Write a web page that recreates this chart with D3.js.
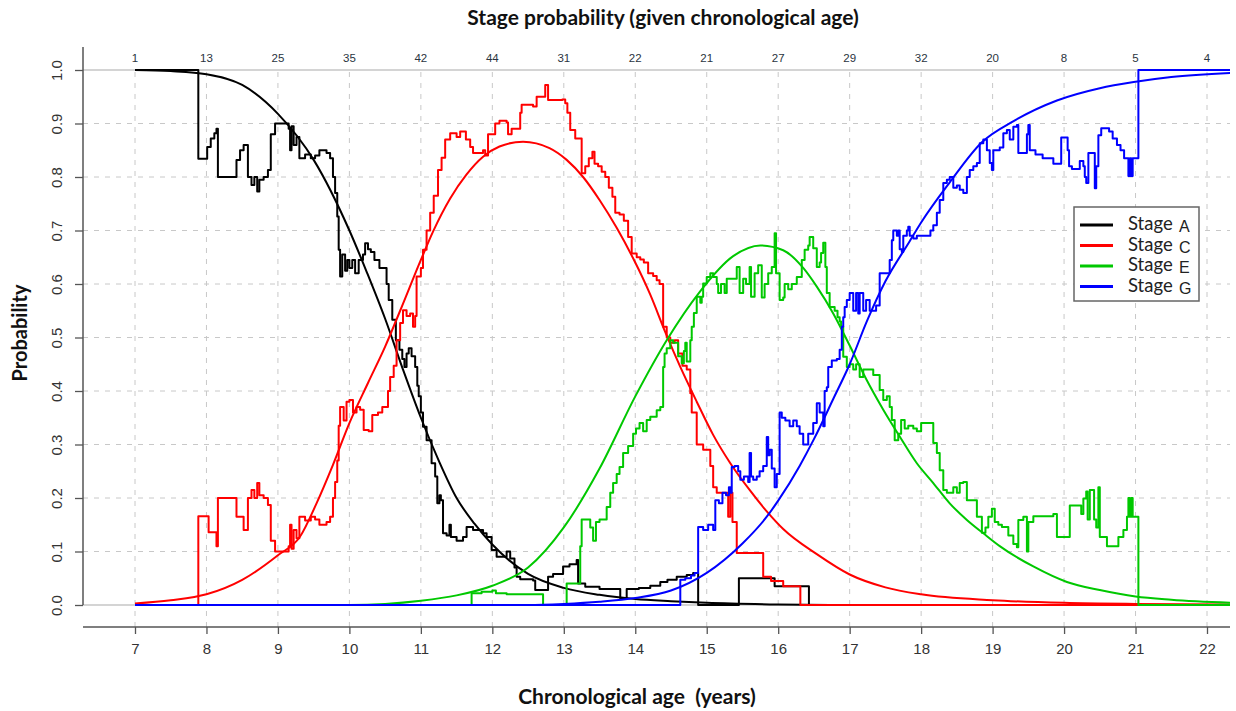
<!DOCTYPE html>
<html>
<head>
<meta charset="utf-8">
<script src="https://cdn.jsdelivr.net/npm/d3@7"></script>
<style>
  html, body { margin: 0; padding: 0; background: #fff; }
  svg { display: block; }
</style>
</head>
<body>
<svg id="chart" width="1236" height="711"></svg>
<script>
// ---------- DATA ----------
const xTickValues = [7, 8, 9, 10, 11, 12, 13, 14, 15, 16, 17, 18, 19, 20, 21, 22];
const sampleCounts = [1, 13, 25, 35, 42, 44, 31, 22, 21, 27, 29, 32, 20, 8, 5, 4];
const yTickValues = [0, 0.1, 0.2, 0.3, 0.4, 0.5, 0.6, 0.7, 0.8, 0.9, 1.0];
const stageNames = ["A", "C", "E", "G"];
const stageColors = ["#000000", "#ff0000", "#00c800", "#0000ff"];

// empirical (moving-window) stage proportions: [age, probability], step after
const stepA = [[7,1.0],[7.886,0.834],[8.01,0.856],[8.06,0.872],[8.11,0.882],[8.14,0.89],[8.16,0.80],[8.42,0.832],[8.47,0.85],[8.52,0.86],[8.58,0.80],[8.63,0.785],[8.67,0.80],[8.71,0.773],[8.74,0.795],[8.8,0.80],[8.86,0.813],[8.9,0.88],[8.96,0.90],[9.15,0.89],[9.17,0.85],[9.19,0.895],[9.22,0.86],[9.26,0.875],[9.3,0.835],[9.38,0.842],[9.46,0.835],[9.52,0.84],[9.58,0.85],[9.68,0.845],[9.73,0.835],[9.77,0.80],[9.8,0.77],[9.83,0.726],[9.85,0.664],[9.87,0.614],[9.9,0.655],[9.94,0.625],[9.97,0.645],[10.0,0.63],[10.04,0.645],[10.08,0.62],[10.13,0.645],[10.19,0.655],[10.22,0.676],[10.26,0.665],[10.3,0.66],[10.35,0.645],[10.42,0.63],[10.52,0.60],[10.55,0.57],[10.6,0.533],[10.65,0.495],[10.7,0.477],[10.74,0.46],[10.77,0.445],[10.8,0.47],[10.83,0.48],[10.87,0.465],[10.92,0.445],[10.95,0.41],[10.97,0.39],[11.0,0.36],[11.03,0.333],[11.08,0.308],[11.15,0.265],[11.2,0.24],[11.23,0.19],[11.26,0.205],[11.28,0.196],[11.31,0.134],[11.36,0.13],[11.4,0.15],[11.42,0.127],[11.5,0.12],[11.59,0.127],[11.64,0.146],[11.73,0.14],[11.87,0.134],[11.92,0.127],[11.99,0.103],[12.06,0.09],[12.2,0.10],[12.25,0.087],[12.31,0.07],[12.34,0.053],[12.39,0.048],[12.57,0.046],[12.6,0.028],[12.78,0.053],[12.85,0.058],[12.99,0.072],[13.08,0.076],[13.18,0.084],[13.2,0.04],[13.3,0.034],[13.5,0.03],[13.79,0.012],[13.88,0.03],[14.05,0.032],[14.21,0.036],[14.35,0.043],[14.45,0.047],[14.58,0.053],[14.72,0.056],[14.81,0.06],[14.88,0],[15.45,0.05],[15.95,0.035],[16.43,0],[21.04,0]];

const stepC = [[7,0],[7.886,0.166],[8.03,0.136],[8.14,0.11],[8.16,0.20],[8.42,0.165],[8.52,0.14],[8.58,0.20],[8.63,0.215],[8.67,0.20],[8.71,0.228],[8.74,0.205],[8.8,0.20],[8.86,0.187],[8.9,0.12],[8.96,0.10],[9.15,0.11],[9.17,0.15],[9.19,0.105],[9.22,0.14],[9.26,0.125],[9.3,0.165],[9.38,0.158],[9.46,0.165],[9.52,0.16],[9.58,0.15],[9.68,0.155],[9.73,0.165],[9.77,0.20],[9.8,0.23],[9.83,0.27],[9.85,0.335],[9.87,0.37],[9.92,0.345],[9.96,0.38],[10.0,0.383],[10.05,0.36],[10.1,0.37],[10.15,0.365],[10.2,0.327],[10.27,0.325],[10.32,0.355],[10.4,0.36],[10.46,0.37],[10.54,0.40],[10.57,0.426],[10.62,0.447],[10.66,0.495],[10.71,0.527],[10.75,0.551],[10.8,0.54],[10.85,0.545],[10.89,0.52],[10.92,0.54],[10.94,0.614],[11.0,0.63],[11.03,0.664],[11.08,0.70],[11.13,0.733],[11.18,0.765],[11.24,0.813],[11.29,0.836],[11.34,0.87],[11.41,0.882],[11.5,0.875],[11.55,0.885],[11.63,0.87],[11.69,0.856],[11.73,0.845],[11.87,0.85],[11.9,0.84],[11.94,0.88],[12.04,0.90],[12.1,0.905],[12.2,0.902],[12.22,0.88],[12.27,0.89],[12.39,0.92],[12.41,0.935],[12.57,0.932],[12.62,0.95],[12.74,0.972],[12.78,0.944],[12.98,0.945],[13.02,0.938],[13.05,0.92],[13.09,0.888],[13.16,0.872],[13.25,0.807],[13.3,0.82],[13.35,0.835],[13.4,0.847],[13.43,0.825],[13.48,0.82],[13.53,0.81],[13.58,0.80],[13.63,0.78],[13.68,0.763],[13.72,0.733],[13.78,0.73],[13.84,0.718],[13.9,0.688],[13.95,0.657],[14.02,0.65],[14.07,0.646],[14.12,0.64],[14.18,0.62],[14.25,0.615],[14.3,0.607],[14.34,0.60],[14.39,0.52],[14.44,0.50],[14.49,0.49],[14.55,0.495],[14.6,0.47],[14.66,0.447],[14.72,0.44],[14.77,0.396],[14.79,0.36],[14.86,0.30],[14.95,0.29],[15.05,0.26],[15.09,0.22],[15.14,0.21],[15.25,0.21],[15.3,0.165],[15.33,0.21],[15.36,0.155],[15.42,0.097],[15.79,0.053],[15.9,0.045],[16.07,0.035],[16.31,0],[21.04,0]];

const stepE = [[7,0],[11.71,0.022],[11.85,0.025],[12.0,0.027],[12.05,0.022],[12.2,0.02],[12.71,0],[13.04,0.04],[13.23,0.11],[13.25,0.16],[13.37,0.145],[13.41,0.12],[13.45,0.155],[13.5,0.16],[13.6,0.183],[13.65,0.21],[13.69,0.228],[13.74,0.245],[13.78,0.258],[13.83,0.284],[13.9,0.297],[13.97,0.32],[14.01,0.33],[14.06,0.34],[14.11,0.325],[14.16,0.346],[14.21,0.352],[14.3,0.364],[14.35,0.37],[14.39,0.445],[14.41,0.47],[14.44,0.48],[14.49,0.495],[14.53,0.49],[14.6,0.465],[14.65,0.452],[14.68,0.475],[14.7,0.49],[14.72,0.455],[14.77,0.495],[14.79,0.52],[14.82,0.546],[14.86,0.576],[14.91,0.565],[14.93,0.576],[14.95,0.601],[15.0,0.613],[15.05,0.62],[15.09,0.613],[15.14,0.60],[15.16,0.583],[15.2,0.60],[15.25,0.583],[15.28,0.61],[15.42,0.632],[15.46,0.583],[15.51,0.61],[15.55,0.60],[15.6,0.632],[15.62,0.576],[15.67,0.62],[15.72,0.635],[15.77,0.575],[15.81,0.60],[15.86,0.62],[15.91,0.632],[15.95,0.695],[15.97,0.62],[16.02,0.57],[16.07,0.575],[16.09,0.60],[16.14,0.59],[16.19,0.60],[16.26,0.613],[16.33,0.645],[16.37,0.664],[16.42,0.672],[16.44,0.688],[16.49,0.667],[16.54,0.632],[16.58,0.64],[16.6,0.658],[16.63,0.677],[16.66,0.632],[16.68,0.583],[16.72,0.557],[16.79,0.55],[16.83,0.538],[16.86,0.53],[16.88,0.52],[16.91,0.464],[16.96,0.445],[17.0,0.45],[17.05,0.44],[17.09,0.45],[17.14,0.426],[17.19,0.44],[17.33,0.43],[17.42,0.402],[17.47,0.383],[17.52,0.39],[17.56,0.37],[17.59,0.346],[17.63,0.308],[17.68,0.32],[17.72,0.346],[17.77,0.33],[17.82,0.335],[17.89,0.33],[17.94,0.325],[18.0,0.34],[18.12,0.34],[18.17,0.303],[18.22,0.284],[18.26,0.252],[18.31,0.215],[18.36,0.21],[18.45,0.22],[18.5,0.21],[18.54,0.228],[18.59,0.23],[18.64,0.196],[18.78,0.165],[18.85,0.135],[18.9,0.145],[18.94,0.165],[18.99,0.18],[19.03,0.155],[19.08,0.15],[19.13,0.146],[19.22,0.13],[19.29,0.114],[19.34,0.108],[19.36,0.159],[19.43,0.165],[19.48,0.10],[19.5,0.155],[19.57,0.166],[19.85,0.17],[19.9,0.127],[20.08,0.186],[20.24,0.17],[20.27,0.199],[20.31,0.212],[20.33,0.16],[20.36,0.215],[20.42,0.16],[20.45,0.145],[20.48,0.22],[20.5,0.127],[20.6,0.11],[20.76,0.127],[20.83,0.14],[20.88,0.165],[20.9,0.20],[20.92,0.165],[20.94,0.20],[20.96,0.165],[21.04,0],[22.4,0]];

const stepG = [[7,0],[14.63,0.047],[14.7,0.05],[14.78,0.055],[14.83,0.06],[14.88,0.146],[14.95,0.14],[15.02,0.15],[15.09,0.14],[15.12,0.196],[15.17,0.19],[15.22,0.21],[15.27,0.205],[15.31,0.22],[15.33,0.21],[15.35,0.258],[15.39,0.26],[15.44,0.25],[15.47,0.234],[15.52,0.24],[15.58,0.23],[15.6,0.284],[15.62,0.24],[15.65,0.234],[15.7,0.24],[15.74,0.25],[15.79,0.26],[15.84,0.314],[15.86,0.28],[15.88,0.29],[15.91,0.255],[15.95,0.22],[15.98,0.245],[16.02,0.36],[16.05,0.35],[16.1,0.345],[16.16,0.334],[16.21,0.345],[16.26,0.334],[16.3,0.32],[16.35,0.30],[16.42,0.32],[16.49,0.34],[16.54,0.377],[16.58,0.36],[16.63,0.334],[16.65,0.40],[16.68,0.407],[16.7,0.445],[16.75,0.457],[16.82,0.46],[16.86,0.477],[16.89,0.52],[16.91,0.538],[16.93,0.557],[16.96,0.57],[17.0,0.583],[17.05,0.55],[17.09,0.583],[17.12,0.545],[17.14,0.583],[17.19,0.55],[17.23,0.57],[17.28,0.55],[17.37,0.56],[17.42,0.62],[17.52,0.62],[17.56,0.645],[17.59,0.682],[17.61,0.70],[17.66,0.69],[17.68,0.70],[17.7,0.665],[17.73,0.66],[17.75,0.69],[17.8,0.70],[17.82,0.707],[17.84,0.69],[17.89,0.685],[17.94,0.69],[18.13,0.70],[18.17,0.71],[18.22,0.733],[18.26,0.757],[18.31,0.789],[18.36,0.795],[18.4,0.80],[18.45,0.78],[18.5,0.784],[18.54,0.776],[18.59,0.77],[18.64,0.80],[18.68,0.813],[18.73,0.82],[18.78,0.826],[18.82,0.863],[18.87,0.87],[18.92,0.85],[18.96,0.826],[18.99,0.813],[19.01,0.85],[19.1,0.855],[19.15,0.882],[19.2,0.888],[19.24,0.87],[19.29,0.894],[19.34,0.897],[19.36,0.845],[19.48,0.88],[19.5,0.897],[19.52,0.85],[19.6,0.842],[19.7,0.835],[19.85,0.825],[19.96,0.874],[20.05,0.85],[20.07,0.82],[20.11,0.815],[20.22,0.83],[20.27,0.82],[20.29,0.80],[20.31,0.789],[20.34,0.845],[20.43,0.779],[20.45,0.82],[20.48,0.878],[20.52,0.891],[20.63,0.885],[20.68,0.872],[20.74,0.86],[20.79,0.85],[20.84,0.835],[20.9,0.802],[20.92,0.835],[20.94,0.802],[20.96,0.835],[21.04,1.0],[22.4,1.0]];

// fitted (model) stage probabilities: [age, probability]
const fitA = [[7,1.0],[7.5,0.998],[8,0.992],[8.5,0.972],[9,0.918],[9.5,0.832],[10,0.70],[10.25,0.62],[10.5,0.535],[10.75,0.44],[11,0.35],[11.25,0.27],[11.5,0.20],[11.75,0.152],[12,0.113],[12.5,0.058],[13,0.032],[13.5,0.019],[14,0.011],[14.5,0.007],[15,0.004],[16,0.001],[17,0],[22.4,0]];
const fitC = [[7,0.003],[7.5,0.009],[8,0.02],[8.5,0.047],[9,0.093],[9.31,0.128],[9.54,0.19],[9.77,0.262],[10,0.34],[10.26,0.415],[10.5,0.483],[10.71,0.55],[11,0.645],[11.17,0.698],[11.41,0.76],[11.64,0.805],[11.87,0.838],[12.1,0.857],[12.43,0.866],[12.8,0.854],[13.04,0.832],[13.27,0.80],[13.5,0.757],[13.74,0.705],[13.97,0.648],[14.21,0.58],[14.42,0.51],[14.63,0.445],[14.86,0.38],[15.09,0.318],[15.33,0.265],[15.6,0.215],[15.84,0.175],[16.07,0.142],[16.54,0.095],[17,0.057],[17.5,0.033],[18,0.02],[19,0.009],[20,0.004],[21,0.002],[22.4,0.001]];
const fitE = [[7,0],[10,0],[10.5,0.002],[11,0.008],[11.5,0.018],[12,0.036],[12.5,0.07],[13,0.145],[13.5,0.255],[14,0.39],[14.44,0.495],[14.9,0.585],[15.37,0.652],[15.75,0.672],[16.07,0.663],[16.35,0.63],[16.54,0.595],[16.77,0.545],[17,0.485],[17.24,0.42],[17.47,0.365],[17.7,0.315],[17.94,0.265],[18.17,0.228],[18.4,0.19],[18.64,0.159],[18.87,0.134],[19.1,0.11],[19.57,0.072],[20.04,0.043],[20.5,0.028],[21,0.016],[21.5,0.01],[22.4,0.004]];
const fitG = [[7,0],[12.5,0],[13,0.002],[13.5,0.006],[14,0.013],[14.5,0.027],[15,0.06],[15.5,0.115],[15.84,0.165],[16,0.195],[16.3,0.26],[16.5,0.31],[16.77,0.385],[17,0.45],[17.24,0.53],[17.5,0.605],[17.84,0.68],[18,0.715],[18.4,0.79],[18.85,0.865],[19.3,0.905],[19.9,0.943],[20.5,0.966],[21,0.978],[21.5,0.987],[22.4,0.995]];

// ---------- LAYOUT ----------
const svg = d3.select("#chart");
const W = 1236, H = 711;
const plotLeft = 83, plotRight = 1230, plotTop = 47, axisY = 627;

const x = d3.scaleLinear().domain([7, 22]).range([135, 1207]);
const y = d3.scaleLinear().domain([0, 1]).range([605, 70]);

svg.append("rect").attr("width", W).attr("height", H).attr("fill", "#fff");

const defs = svg.append("defs");
defs.append("clipPath").attr("id", "plotClip")
  .append("rect").attr("x", plotLeft).attr("y", 40).attr("width", plotRight - plotLeft).attr("height", axisY - 40);

// ---------- GRID ----------
const grid = svg.append("g");
grid.selectAll("line.hgrid")
  .data(yTickValues.filter(v => v > 0 && v < 1))
  .join("line")
  .attr("x1", plotLeft).attr("x2", plotRight)
  .attr("y1", d => y(d)).attr("y2", d => y(d))
  .attr("stroke", "#c8c8c8").attr("stroke-width", 1).attr("stroke-dasharray", "5,6");
grid.selectAll("line.vgrid")
  .data(xTickValues)
  .join("line")
  .attr("x1", d => x(d)).attr("x2", d => x(d))
  .attr("y1", y(1) + 2).attr("y2", axisY)
  .attr("stroke", "#c8c8c8").attr("stroke-width", 1).attr("stroke-dasharray", "5,6");
grid.selectAll("line.ref")
  .data([0, 1])
  .join("line")
  .attr("x1", plotLeft).attr("x2", plotRight)
  .attr("y1", d => y(d)).attr("y2", d => y(d))
  .attr("stroke", "#d4d4d4").attr("stroke-width", 2);

// ---------- AXES ----------
const tickFont = "'Liberation Sans Narrow', 'Arial Narrow', 'Liberation Sans', Arial, sans-serif";
const xAxis = d3.axisBottom(x).tickValues(xTickValues).tickSize(7).tickSizeOuter(0).tickFormat(d3.format("d"));
const gx = svg.append("g").attr("transform", `translate(0,${axisY})`).call(xAxis);
gx.select(".domain").remove();
gx.selectAll(".tick line").attr("stroke", "#555").attr("stroke-width", 1.3);
gx.selectAll(".tick text").attr("y", 22).attr("dy", "0.35em")
  .attr("font-family", tickFont).attr("font-size", 15).attr("fill", "#333");
svg.append("line").attr("x1", plotLeft).attr("x2", plotRight).attr("y1", axisY).attr("y2", axisY)
  .attr("stroke", "#555").attr("stroke-width", 1.5);

const yAxis = d3.axisLeft(y).tickValues(yTickValues).tickSize(8).tickSizeOuter(0).tickFormat(d3.format(".1f"));
const gy = svg.append("g").attr("transform", `translate(${plotLeft},0)`).call(yAxis);
gy.select(".domain").remove();
gy.selectAll(".tick line").attr("stroke", "#555").attr("stroke-width", 1.3);
gy.selectAll(".tick text")
  .attr("transform", "rotate(-90)")
  .attr("x", 0).attr("y", -21).attr("dy", 0)
  .attr("text-anchor", "middle")
  .attr("font-family", tickFont).attr("font-size", 15).attr("fill", "#333");
svg.append("line").attr("x1", plotLeft).attr("x2", plotLeft).attr("y1", plotTop).attr("y2", y(0))
  .attr("stroke", "#555").attr("stroke-width", 1.5);

// sample counts along top
svg.append("g").selectAll("text")
  .data(xTickValues)
  .join("text")
  .attr("x", d => x(d)).attr("y", 62)
  .attr("text-anchor", "middle")
  .attr("font-family", tickFont).attr("font-size", 11.5).attr("fill", "#2a3440")
  .text((d, i) => sampleCounts[i]);

// ---------- LINES ----------
const stepLine = d3.line().x(d => x(d[0])).y(d => y(d[1])).curve(d3.curveStepAfter);
const fitLine = d3.line().x(d => x(d[0])).y(d => y(d[1])).curve(d3.curveMonotoneX);
const stepData = [stepA, stepC, stepE, stepG];
const fitData = [fitA, fitC, fitE, fitG];

const lines = svg.append("g").attr("clip-path", "url(#plotClip)");
stageNames.forEach((s, i) => {
  lines.append("path").datum(stepData[i])
    .attr("d", stepLine).attr("fill", "none")
    .attr("stroke", stageColors[i]).attr("stroke-width", 2).attr("stroke-linejoin", "round");
  lines.append("path").datum(fitData[i])
    .attr("d", fitLine).attr("fill", "none")
    .attr("stroke", stageColors[i]).attr("stroke-width", 2);
});

// ---------- LEGEND ----------
const lg = svg.append("g").attr("transform", "translate(1074,207)");
lg.append("rect").attr("x", 0).attr("y", 0).attr("width", 125).attr("height", 94)
  .attr("fill", "#fff").attr("stroke", "#666").attr("stroke-width", 1.5);
stageNames.forEach((s, i) => {
  const cy = 18 + i * 20.5;
  lg.append("line").attr("x1", 6).attr("x2", 39).attr("y1", cy).attr("y2", cy)
    .attr("stroke", stageColors[i]).attr("stroke-width", 3);
  const t = lg.append("text").attr("x", 54).attr("y", cy + 5)
    .attr("font-family", "Lato, 'Open Sans', sans-serif").attr("font-size", 18.5).attr("fill", "#222");
  t.append("tspan").text("Stage");
  t.append("tspan").attr("x", 105).attr("dy", 2)
    .attr("font-family", "'Liberation Sans', Arial, sans-serif").attr("font-size", 16).text(s);
});

// ---------- TITLES ----------
const titleFont = "Lato, 'Open Sans', sans-serif";
svg.append("text").attr("x", 663).attr("y", 25).attr("text-anchor", "middle")
  .attr("font-family", titleFont).attr("font-weight", "bold").attr("font-size", 21).attr("fill", "#111")
  .text("Stage probability (given chronological age)");
svg.append("text").attr("x", 637).attr("y", 704).attr("text-anchor", "middle")
  .attr("font-family", titleFont).attr("font-weight", "bold").attr("font-size", 21).attr("fill", "#111")
  .attr("xml:space", "preserve")
  .text("Chronological age  (years)");
svg.append("text").attr("transform", "translate(27,333) rotate(-90)").attr("text-anchor", "middle")
  .attr("font-family", titleFont).attr("font-weight", "bold").attr("font-size", 20).attr("fill", "#111")
  .text("Probability");
</script>
</body>
</html>
